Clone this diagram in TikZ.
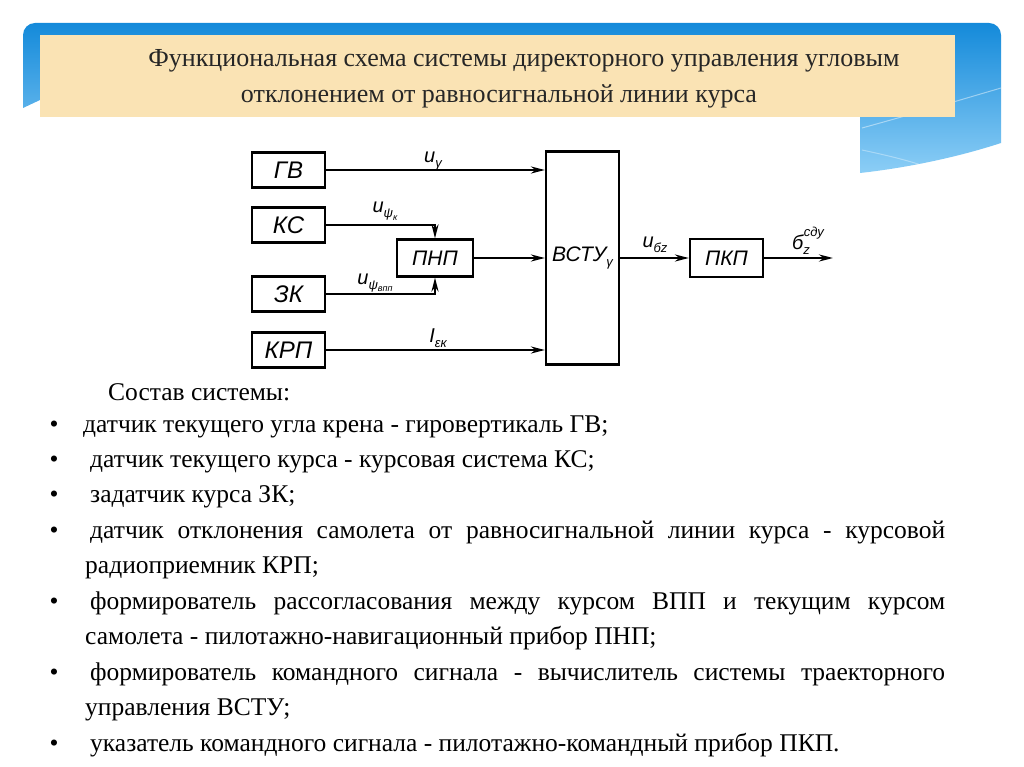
\documentclass[tikz,border=0pt]{standalone}
\usepackage{fontspec}
\setmainfont{Liberation Serif}
\newfontfamily\drafting{Liberation Sans}
\usetikzlibrary{arrows.meta}

\definecolor{beige}{RGB}{250,227,180}
\definecolor{bluetop}{RGB}{20,138,218}
\definecolor{bluebot}{RGB}{140,206,246}

\newcommand{\mysub}[1]{\raisebox{-0.45ex}{\fontsize{13}{13}\selectfont #1}}
\newcommand{\mysubsub}[1]{\raisebox{-0.4ex}{\fontsize{9}{9}\selectfont #1}}

\tikzset{
  blk/.style={draw, line width=2.2pt, minimum width=73pt, minimum height=35pt, inner sep=0pt,
    font=\drafting\itshape\fontsize{24}{24}\selectfont},
  smallblk/.style={blk, font=\drafting\itshape\fontsize{21}{21}\selectfont},
  sig/.style={line width=2.2pt, -{Stealth[length=14pt,width=7pt]}},
  lbl/.style={font=\drafting\itshape\fontsize{20}{20}\selectfont, inner sep=0pt},
  body/.style={anchor=base west, inner sep=0pt, font=\fontsize{25.5}{25.5}\selectfont},
  bul/.style={anchor=base, inner sep=0pt, font=\fontsize{25.5}{25.5}\selectfont},
  ttl/.style={anchor=base, inner sep=0pt, text=black!85, font=\fontsize{26}{26}\selectfont},
}

\begin{document}
\begin{tikzpicture}[x=1pt,y=-1pt]
\useasboundingbox (0,0) rectangle (1024,767);
\fill[white] (0,0) rectangle (1024,767);

% blue banner
\shade[top color=bluetop, bottom color=bluebot]
  (23,108) [rounded corners=12pt] -- (23,23) -- (1001,23) -- (1001,60) [sharp corners]
  -- (1001,143) .. controls (955,158) and (905,168) .. (860,173) -- (860,117) -- (40,100) -- cycle;
\draw[white, opacity=0.45, line width=1pt] (862,128) .. controls (920,112) and (960,100) .. (1001,88);
\draw[white, opacity=0.35, line width=1pt] (862,150) .. controls (890,156) and (915,162) .. (935,170);
% title box
\fill[beige] (40,35) rectangle (955,117);
\node[ttl] (t1) at (524,67) {Функциональная схема системы директорного управления угловым};
\node[ttl] (t2) at (499,103) {отклонением от равносигнальной линии курса};

% diagram
\node[blk] (gv) at (288.5,170) {ГВ};
\node[blk] (ks) at (288.5,225) {КС};
\node[blk] (zk) at (288.5,294) {ЗК};
\node[blk] (krp) at (288.5,350) {КРП};
\node[smallblk, minimum width=76pt, minimum height=37pt] (pnp) at (435,258) {ПНП};
\node[smallblk, minimum width=73pt, minimum height=213pt] (vstu) at (582.5,258) {ВСТУ\mysub{γ}};
\node[smallblk, minimum width=73pt, minimum height=38pt] (pkp) at (726.5,258) {ПКП};
\coordinate (out) at (833,258);

\draw[sig] (gv.east) -- (gv.east -| vstu.west);
\draw[sig] (ks.east) -| (pnp.north);
\draw[sig] (zk.east) -| (pnp.south);
\draw[sig] (pnp.east) -- (vstu.west);
\draw[sig] (krp.east) -- (krp.east -| vstu.west);
\draw[sig] (vstu.east) -- (pkp.west);
\draw[sig] (pkp.east) -- (out);

\node[lbl] (lgv) at (433,161) {u\mysub{γ}};
\node[lbl] (lks) at (385,211) {u\mysub{ψ\mysubsub{к}}};
\node[lbl] (lzk) at (375,283) {u\mysub{ψ\mysubsub{впп}}};
\node[lbl] (lkrp) at (438,338) {I\mysub{εк}};
\node[lbl] (lvs) at (655,245) {u\mysub{бz}};
\node[lbl] (lout) at (808,241) {б\raisebox{-0.5ex}{\fontsize{13}{13}\selectfont z}\hspace{-6pt}\raisebox{1.2ex}{\fontsize{13}{13}\selectfont сду}};

% text
\node[body] (sost) at (108,400) {Состав системы:};
\node[bul] (b1) at (54,432) {•};
\node[body] (l1) at (83,432) {датчик текущего угла крена - гировертикаль ГВ;};
\node[bul] (b2) at (54,467.4) {•};
\node[body] (l2) at (90,467.4) {датчик текущего курса - курсовая система КС;};
\node[bul] (b3) at (54,502.9) {•};
\node[body] (l3) at (90,502.9) {задатчик курса ЗК;};
\node[bul] (b4) at (54,538.3) {•};
\node[body] (l4) at (90,538.3) {\makebox[855pt][s]{датчик отклонения самолета от равносигнальной линии курса - курсовой}};
\node[body] (l4b) at (85,573.8) {радиоприемник КРП;};
\node[bul] (b5) at (54,609.2) {•};
\node[body] (l5) at (90,609.2) {\makebox[855pt][s]{формирователь рассогласования между курсом ВПП и текущим курсом}};
\node[body] (l5b) at (85,644.6) {самолета - пилотажно-навигационный прибор ПНП;};
\node[bul] (b6) at (54,680.1) {•};
\node[body] (l6) at (90,680.1) {\makebox[855pt][s]{формирователь командного сигнала - вычислитель системы траекторного}};
\node[body] (l6b) at (85,715.5) {управления ВСТУ;};
\node[bul] (b7) at (54,751) {•};
\node[body] (l7) at (90,751) {указатель командного сигнала - пилотажно-командный прибор ПКП.};
\end{tikzpicture}
\end{document}
